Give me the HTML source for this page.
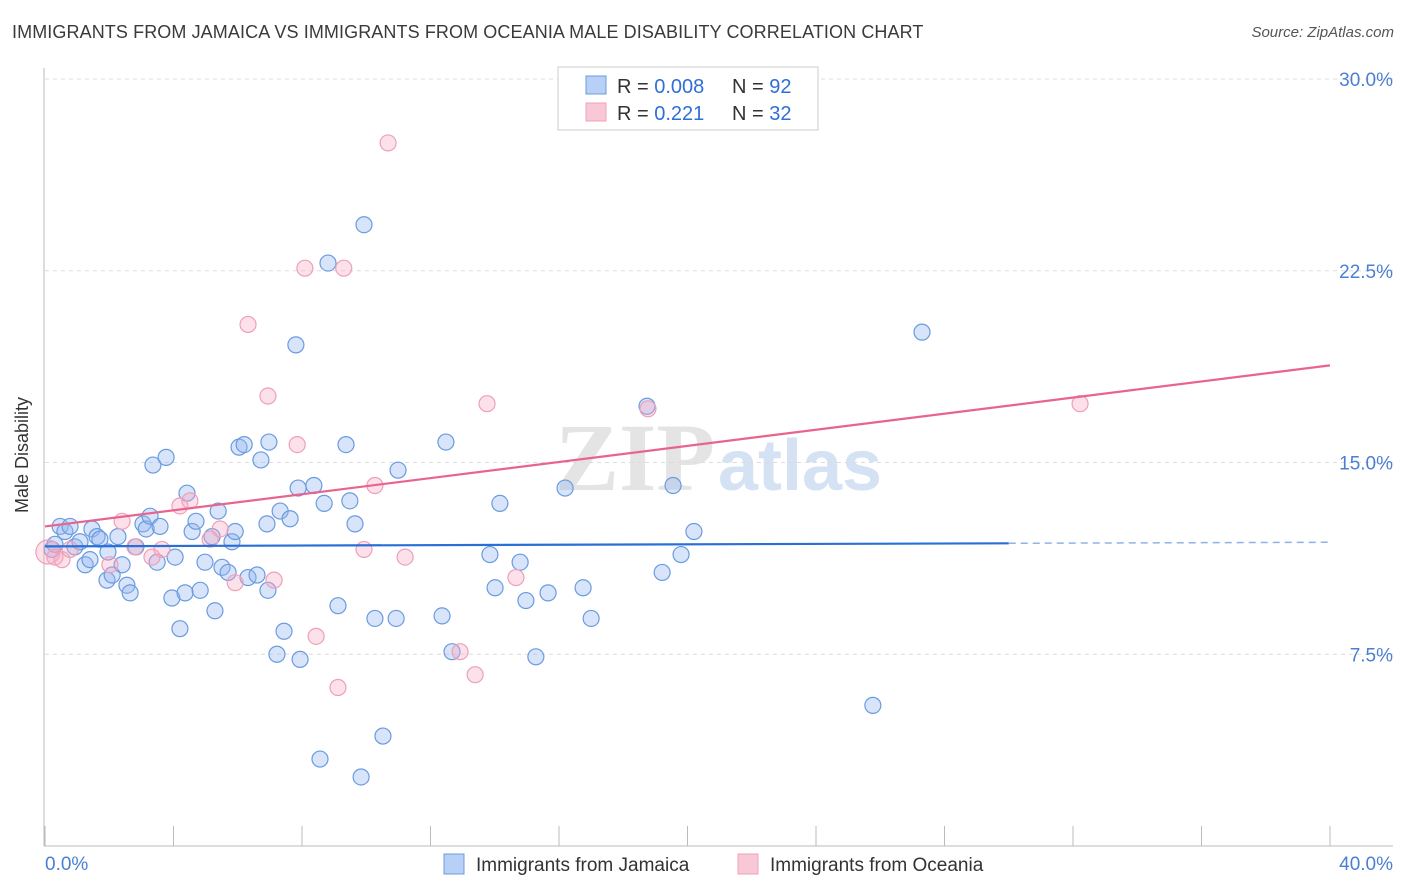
<!DOCTYPE html>
<html><head><meta charset="utf-8">
<style>
body{margin:0;background:#fff;font-family:"Liberation Sans",sans-serif;}
#wrap{position:relative;width:1406px;height:892px;overflow:hidden;}
.title{position:absolute;left:12px;top:22px;font-size:18px;color:#3a3a3a;letter-spacing:0.1px;}
.source{position:absolute;right:12px;top:24px;font-size:15px;color:#555;font-style:italic;}
</style></head><body>
<div id="wrap">
<div class="title">IMMIGRANTS FROM JAMAICA VS IMMIGRANTS FROM OCEANIA MALE DISABILITY CORRELATION CHART</div>
<div class="source">Source: ZipAtlas.com</div>
<svg id="chart" width="1406" height="892" style="position:absolute;left:0;top:0">
<text x="635" y="490" font-size="96" font-family="Liberation Serif,serif" fill="#e4e4e4" text-anchor="middle" font-weight="bold">ZIP</text>
<text x="800" y="490" font-size="72" fill="#d5e2f3" text-anchor="middle" font-weight="bold">atlas</text>
<g id="grid"></g><g id="axes"></g><g id="pts"></g><g id="lines"></g>
<text x="28" y="455" font-size="18" fill="#333" text-anchor="middle" transform="rotate(-90 28 455)">Male Disability</text>
<text x="45" y="870" font-size="19" fill="#4a7fd4">0.0%</text>
<text x="1393" y="870" font-size="19" fill="#4a7fd4" text-anchor="end">40.0%</text>
<g>
<rect x="558" y="67" width="260" height="63" fill="#fff" stroke="#ccc"/>
<rect x="586" y="76" width="20" height="18" fill="#b8d0f5" stroke="#6a9be0"/>
<rect x="586" y="103" width="20" height="18" fill="#f9c8d7" stroke="#eea0b8"/>
<text x="617" y="93" font-size="20" fill="#333">R = <tspan fill="#2f6fd6">0.008</tspan></text>
<text x="732" y="93" font-size="20" fill="#333">N = <tspan fill="#2f6fd6">92</tspan></text>
<text x="617" y="120" font-size="20" fill="#333">R = <tspan fill="#2f6fd6"> 0.221</tspan></text>
<text x="732" y="120" font-size="20" fill="#333">N = <tspan fill="#2f6fd6">32</tspan></text>
</g>
<g>
<rect x="444" y="854" width="20" height="20" fill="#b8d0f5" stroke="#6a9be0"/>
<text x="476" y="871" font-size="19" fill="#333">Immigrants from Jamaica</text>
<rect x="738" y="854" width="20" height="20" fill="#f9c8d7" stroke="#eea0b8"/>
<text x="770" y="871" font-size="19" fill="#333">Immigrants from Oceania</text>
</g>
</svg>
</div>
<script>
const yTicks=[7.5,15,22.5,30];
const yTickLabels=["7.5%","15.0%","22.5%","30.0%"];
const xTicks=[0,4,8,12,16,20,24,28,32,36,40];
const jamaicaX=[0.22,0.31,0.47,0.62,0.78,0.93,1.09,1.25,1.40,1.46,1.62,1.71,1.93,1.96,2.09,2.27,2.40,2.55,2.65,2.83,3.05,3.15,3.27,3.36,3.49,3.58,3.77,3.95,4.05,4.20,4.36,4.42,4.58,4.70,4.83,4.98,5.20,5.29,5.39,5.51,5.70,5.82,5.92,6.04,6.20,6.32,6.60,6.72,6.91,6.94,6.97,7.32,7.44,7.22,7.63,7.81,7.88,7.94,8.37,8.56,8.69,8.81,9.12,9.37,9.49,9.65,9.84,9.93,10.27,10.52,10.93,10.99,12.36,12.48,12.67,13.85,14.01,14.16,14.79,14.97,15.28,15.66,16.19,16.75,17.00,18.74,19.21,19.55,19.80,20.20,25.77,27.30];
const jamaicaY=[11.6,11.8,12.5,12.3,12.5,11.7,11.9,11.0,11.2,12.4,12.1,12.0,10.4,11.5,10.6,12.1,11.0,10.2,9.9,11.7,12.6,12.4,12.9,14.9,11.1,12.5,15.2,9.7,11.3,8.5,9.9,13.8,12.3,12.7,10.0,11.1,12.1,9.2,13.1,10.9,10.7,11.9,12.3,15.6,15.7,10.5,10.6,15.1,12.6,10.0,15.8,13.1,8.4,7.5,12.8,19.6,14.0,7.3,14.1,3.4,13.4,22.8,9.4,15.7,13.5,12.6,2.7,24.3,8.9,4.3,8.9,14.7,9.0,15.8,7.6,11.4,10.1,13.4,11.1,9.6,7.4,9.9,14.0,10.1,8.9,17.2,10.7,14.1,11.4,12.3,5.5,20.1];
const oceaniaX=[0.09,0.31,0.53,0.78,2.02,2.40,2.80,3.33,3.64,4.20,4.51,5.14,5.45,5.92,6.32,6.94,7.13,7.85,8.09,8.44,9.12,9.30,9.93,10.27,10.68,11.21,12.92,13.39,13.76,14.66,18.77,32.22];
const oceaniaY=[11.5,11.3,11.2,11.6,11.0,12.7,11.7,11.3,11.6,13.3,13.5,12.0,12.4,10.3,20.4,17.6,10.4,15.7,22.6,8.2,6.2,22.6,11.6,14.1,27.5,11.3,7.6,6.7,17.3,10.5,17.1,17.3];
const blueTrend=[11.72,11.88];
const pinkTrend=[12.5,18.8];
const NS="http://www.w3.org/2000/svg";
const X0=45,X1=1330,Y0=846,PX=(X1-X0)/40,PY=(846-79)/30;
const sx=v=>X0+v*PX, sy=v=>Y0-v*PY;
function mk(tag,attrs,parent){const e=document.createElementNS(NS,tag);for(const k in attrs)e.setAttribute(k,attrs[k]);parent.appendChild(e);return e;}
const grid=document.getElementById('grid'),axes=document.getElementById('axes'),pts=document.getElementById('pts'),lines=document.getElementById('lines');
yTicks.forEach((t,i)=>{
 const l=mk('line',{x1:45,x2:1393,y1:sy(t),y2:sy(t),stroke:'#dcdcdc','stroke-dasharray':'4,4'},grid);
 
 
 const tx=mk('text',{x:1393,y:sy(t)+7,'font-size':19,fill:'#4a7fd4','text-anchor':'end'},grid);
 tx.textContent=yTickLabels[i];
 
 
});
const ya=mk('line',{x1:44,x2:44,y1:68,y2:846,stroke:'#bbb'},axes);


const xa=mk('line',{x1:44,x2:1393,y1:846,y2:846,stroke:'#bbb'},axes);


xTicks.forEach(t=>{
 const l=mk('line',{x1:sx(t),x2:sx(t),y1:826,y2:846,stroke:'#bbb'},axes);
 
 
});
jamaicaX.forEach((v,i)=>{
 const c=mk('circle',{cx:sx(v),cy:sy(jamaicaY[i]),r:8,fill:'rgba(150,185,240,0.38)',stroke:'#6a9be0','stroke-width':1.2},pts);
 
 
});
oceaniaX.forEach((v,i)=>{
 const c=mk('circle',{cx:sx(v),cy:sy(oceaniaY[i]),r:i==0?12:8,fill:'rgba(245,170,195,0.35)',stroke:'#eea0b8','stroke-width':1.2},pts);
 
 
});
const bl=mk('line',{x1:sx(0),y1:sy(blueTrend[0]),x2:sx(30),y2:sy(blueTrend[0]+(blueTrend[1]-blueTrend[0])*0.75),stroke:'#2a6fd6','stroke-width':2.2},lines);


const bd=mk('line',{x1:sx(30),y1:sy(blueTrend[0]+(blueTrend[1]-blueTrend[0])*0.75),x2:sx(40),y2:sy(blueTrend[1]),stroke:'#8fb2e6','stroke-width':1.5,'stroke-dasharray':'7,5'},lines);


const pl=mk('line',{x1:sx(0),y1:sy(pinkTrend[0]),x2:sx(40),y2:sy(pinkTrend[1]),stroke:'#e8648f','stroke-width':2.2},lines);


</script>
</body></html>
